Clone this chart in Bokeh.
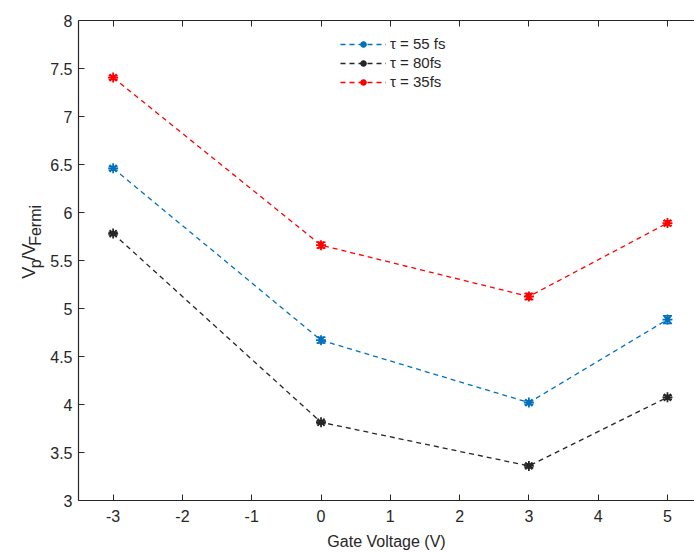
import math
from bokeh.plotting import figure
from bokeh.layouts import row
from bokeh.models import (ColumnDataSource, Whisker, TeeHead, LinearAxis, FixedTicker,
                          Legend, LegendItem, Range1d)
from bokeh.core.properties import value
from bokeh.embed import file_html
from bokeh.resources import INLINE

gate_v = [-3, 0, 3, 5]
series_names = ["\u03c4 = 55 fs", "\u03c4 = 80fs", "\u03c4 = 35fs"]
tau55 = [6.46, 4.67, 4.02, 4.885]
tau55_err = [0.02, 0.03, 0.02, 0.04]
tau80 = [5.78, 3.815, 3.36, 4.075]
tau80_err = [0.015, 0.015, 0.02, 0.02]
tau35 = [7.405, 5.66, 5.125, 5.89]
tau35_err = [0.02, 0.03, 0.03, 0.025]
colors = ["#0072BD", "#262626", "#FF0000"]
x_ticks = [-3, -2, -1, 0, 1, 2, 3, 4, 5]
y_ticks = [3, 3.5, 4, 4.5, 5, 5.5, 6, 6.5, 7, 7.5, 8]
ylabel_parts = ["V", "p", "/V", "Fermi"]
ylabel_is_sub = [False, True, False, True]

FONT = "Liberation Sans"
AX = "#262626"
H = 554
LW = 46  # width of the strip that carries the y-axis title

# ---------------- main plot ----------------
p = figure(width=694 - LW, height=H, output_backend="svg", toolbar_location=None,
           x_range=Range1d(-3.5, 5.39), y_range=Range1d(3, 8),
           min_border_left=78 - LW, min_border_right=0, min_border_top=20,
           min_border_bottom=54)
p.outline_line_color = None
p.grid.visible = False
p.background_fill_color = "white"
p.border_fill_color = "white"

for ax in (p.xaxis[0], p.yaxis[0]):
    ax.major_tick_in = 6
    ax.major_tick_out = 0
    ax.minor_tick_line_color = None
    ax.axis_line_color = AX
    ax.axis_line_width = 1.2
    ax.major_tick_line_color = AX
    ax.major_label_text_font = FONT
    ax.major_label_text_font_size = "16px"
    ax.major_label_text_color = AX

p.xaxis[0].ticker = FixedTicker(ticks=x_ticks)
p.xaxis[0].major_label_overrides = {t: ("%g" % t) for t in x_ticks}
p.xaxis[0].major_label_standoff = 9
p.xaxis[0].axis_label = "Gate Voltage (V)"
p.xaxis[0].axis_label_text_font = FONT
p.xaxis[0].axis_label_text_font_size = "16px"
p.xaxis[0].axis_label_text_font_style = "normal"
p.xaxis[0].axis_label_text_color = AX
p.xaxis[0].axis_label_standoff = 8

p.yaxis[0].ticker = FixedTicker(ticks=y_ticks)
p.yaxis[0].major_label_overrides = {t: ("%g" % t) for t in y_ticks}
p.yaxis[0].major_label_standoff = 6

top = LinearAxis(ticker=FixedTicker(ticks=x_ticks),
                 major_label_overrides={t: "" for t in x_ticks},
                 major_tick_in=6, major_tick_out=0, minor_tick_line_color=None,
                 axis_line_color=AX, axis_line_width=1.2, major_tick_line_color=AX)
p.add_layout(top, "above")

items = []
for name, ys, errs, c in zip(series_names, [tau55, tau80, tau35],
                             [tau55_err, tau80_err, tau35_err], colors):
    src = ColumnDataSource(dict(x=gate_v, y=ys,
                                lo=[a - b for a, b in zip(ys, errs)],
                                hi=[a + b for a, b in zip(ys, errs)]))
    ln = p.line("x", "y", source=src, line_color=c, line_dash="5 4", line_width=1.3)
    w = Whisker(base="x", lower="lo", upper="hi", source=src, dimension="height",
                line_color=c, line_width=1.5,
                upper_head=TeeHead(size=9, line_color=c, line_width=1.5),
                lower_head=TeeHead(size=9, line_color=c, line_width=1.5))
    p.add_layout(w)
    sc = p.scatter("x", "y", source=src, marker="asterisk", size=10,
                   line_color=c, line_width=1.8)
    dot = p.scatter("x", "y", source=src, marker="circle", size=4,
                    fill_color=c, line_color=c)
    items.append(LegendItem(label=name, renderers=[ln, sc, dot]))

legend = Legend(items=items, location=(262, 410), border_line_color=None,
                background_fill_alpha=0, label_text_font=FONT,
                label_text_font_size="15px", label_text_color=AX,
                glyph_width=46, glyph_height=14, label_height=15,
                spacing=2, padding=2, margin=0, label_standoff=4)
p.add_layout(legend, "center")

# ---------------- y-axis title strip (pixel coordinates) ----------------
yl = figure(width=LW, height=H, output_backend="svg", toolbar_location=None,
            x_range=Range1d(0, LW), y_range=Range1d(0, H),
            x_axis_type=None, y_axis_type=None,
            min_border_left=0, min_border_right=0, min_border_top=0, min_border_bottom=0)
yl.outline_line_color = None
yl.grid.visible = False
yl.border_fill_color = "white"
yl.background_fill_color = "white"

em = {"V": 0.667, "p": 0.556, "/": 0.278, "F": 0.611, "e": 0.556, "r": 0.333,
      "m": 0.833, "i": 0.222}
main_fs, sub_fs = 18, 16
pos_y, pos_x, sizes = [], [], []
cur = H - 298  # start of the title (bottom end, reading upward)
for txt, sub in zip(ylabel_parts, ylabel_is_sub):
    fs = sub_fs if sub else main_fs
    pos_y.append(cur)
    pos_x.append(35 if sub else 28)
    sizes.append(f"{fs}px")
    cur += sum(em[ch] for ch in txt) * fs
lsrc = ColumnDataSource(dict(x=pos_x, y=pos_y, t=ylabel_parts, fs=sizes))
yl.text("x", "y", text="t", source=lsrc, angle=math.pi / 2, text_font=value(FONT),
        text_font_size="fs", text_color=AX, text_align="left",
        text_baseline="alphabetic")

layout = row(yl, p, spacing=0)
open("out.html", "w").write(file_html(layout, INLINE))
